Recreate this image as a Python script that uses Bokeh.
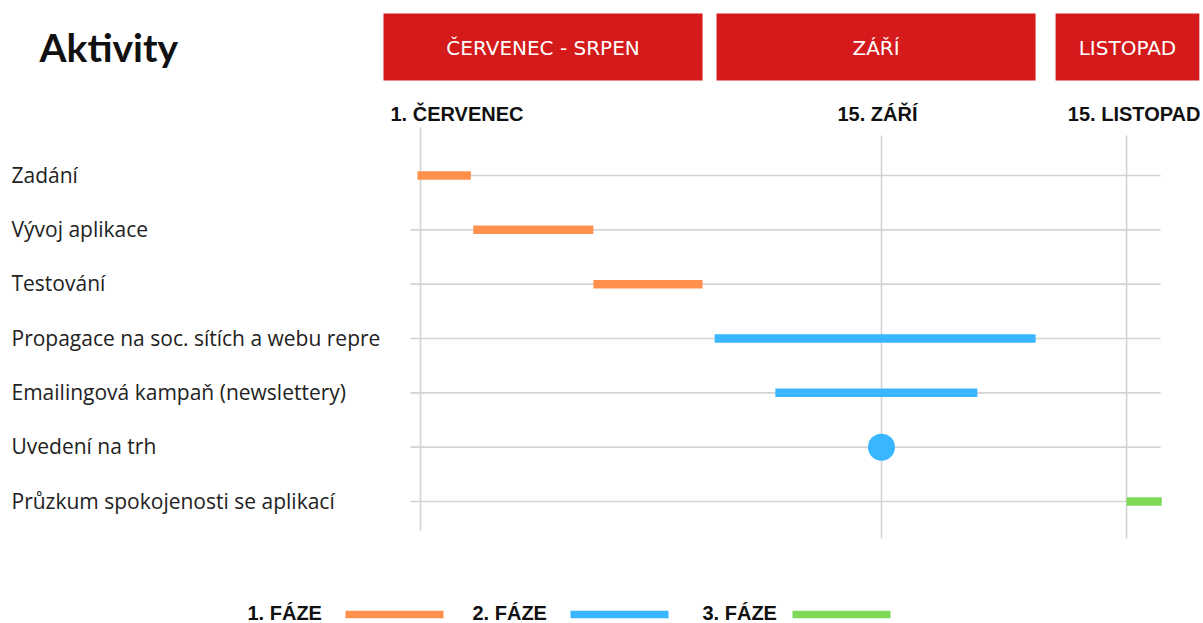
from bokeh.plotting import figure
from bokeh.models import Range1d
from bokeh.core.properties import value
from bokeh.embed import file_html
from bokeh.resources import INLINE

# ---------------- data ----------------
activities = [
    "Zadání",
    "Vývoj aplikace",
    "Testování",
    "Propagace na soc. sítích a webu repre",
    "Emailingová kampaň (newslettery)",
    "Uvedení na trh",
    "Průzkum spokojenosti se aplikací",
]
# timeline position (approx. days after 1 July)
bar_start = [-0.5, 8.7, 28.5, 48.5, 58.5, None, 116.4]
bar_end = [8.3, 28.5, 46.5, 101.4, 91.8, None, 122.2]
bar_phase = [0, 0, 0, 1, 1, 1, 2]
milestone_row = 5
milestone_pos = 76.0

tick_pos = [0.0, 76.0, 116.4]
tick_labels = ["1. ČERVENEC", "15. ZÁŘÍ", "15. LISTOPAD"]

period_labels = ["ČERVENEC - SRPEN", "ZÁŘÍ", "LISTOPAD"]
period_start = [-6.1, 48.8, 104.7]
period_end = [46.5, 101.4, 128.4]

phase_labels = ["1. FÁZE", "2. FÁZE", "3. FÁZE"]
phase_colors = ["#ff914d", "#38b6ff", "#7ed957"]

# ---------------- layout helpers ----------------
PPD = 461.0 / 76.0          # pixels per timeline unit
ROW = 326.0 / 6.0           # pixels per row


def dx(px):
    return (px - 420.0) / PPD


def dy(py):
    return (py - 175.0) / ROW


W, H = 1203, 623
p = figure(
    width=W, height=H,
    x_range=Range1d(dx(0), dx(W)),
    y_range=Range1d(dy(H), dy(0)),
    x_axis_location=None, y_axis_location=None,
    toolbar_location=None, output_backend="svg",
    min_border=0, outline_line_color=None,
    background_fill_color="white", border_fill_color="white",
)
p.grid.visible = False

GRID = "#d3d3d3"

# horizontal row lines
n = len(activities)
p.segment(x0=[dx(420)] + [dx(410)] * (n - 1), x1=[dx(1160)] * n,
          y0=list(range(n)), y1=list(range(n)),
          line_color=GRID, line_width=1.6)

# vertical tick lines
p.segment(x0=tick_pos, x1=tick_pos,
          y0=[dy(127), dy(135), dy(135)], y1=[dy(530), dy(538), dy(538)],
          line_color=GRID, line_width=1.6)

# bars
for i in range(n):
    if bar_start[i] is None:
        continue
    p.hbar(y=[i], left=[bar_start[i]], right=[bar_end[i]], height=8.5 / ROW,
           fill_color=phase_colors[bar_phase[i]], line_color=None)

# milestone
p.scatter(x=[milestone_pos], y=[milestone_row], size=27, marker="circle",
          fill_color=phase_colors[bar_phase[milestone_row]], line_color=None)

# row labels
p.text(x=[dx(11)] * n, y=list(range(n)), text=activities,
       text_align="left", text_baseline="middle", y_offset=-1,
       text_font=value("Open Sans"), text_font_size="21px", text_color="#222222")

# title
p.text(x=[dx(39)], y=[dy(46)], text=["Aktivity"], text_align="left",
       text_baseline="middle", text_font=value("Lato"),
       text_font_style="bold", text_font_size="39px", text_color="#111111")

# period header boxes
p.quad(left=period_start, right=period_end, top=[dy(13)] * 3, bottom=[dy(80)] * 3,
       fill_color="#d41a1a", line_color=None)
p.text(x=[(a + b) / 2 for a, b in zip(period_start, period_end)], y=[dy(47)] * 3,
       text=period_labels, text_align="center", text_baseline="middle",
       text_font=value("DejaVu Sans"), text_font_size="20px", text_color="white")

# date tick labels
tick_font = dict(text_baseline="middle", text_font=value("Liberation Sans"),
                 text_font_style="bold", text_font_size="20px", text_color="#111111")
p.text(x=[tick_pos[0]], y=[dy(113)], text=[tick_labels[0]], text_align="left",
       x_offset=-30, **tick_font)
p.text(x=[tick_pos[1]], y=[dy(113)], text=[tick_labels[1]], text_align="center",
       x_offset=-4, **tick_font)
p.text(x=[dx(1200)], y=[dy(113)], text=[tick_labels[2]], text_align="right",
       **tick_font)

# legend
leg_y = dy(614)
leg_text_x = [247, 472, 702]
leg_line_x = [(345, 443), (570, 668), (792, 890)]
p.text(x=[dx(v) for v in leg_text_x], y=[dy(612)] * 3, text=phase_labels,
       text_align="left", text_baseline="middle",
       text_font=value("Liberation Sans"),
       text_font_style="bold", text_font_size="20px", text_color="#111111")
p.segment(x0=[dx(a) for a, b in leg_line_x], x1=[dx(b) for a, b in leg_line_x],
          y0=[leg_y] * 3, y1=[leg_y] * 3, line_color=phase_colors,
          line_width=7.5, line_cap="butt")

open("out.html", "w").write(file_html(p, INLINE))
